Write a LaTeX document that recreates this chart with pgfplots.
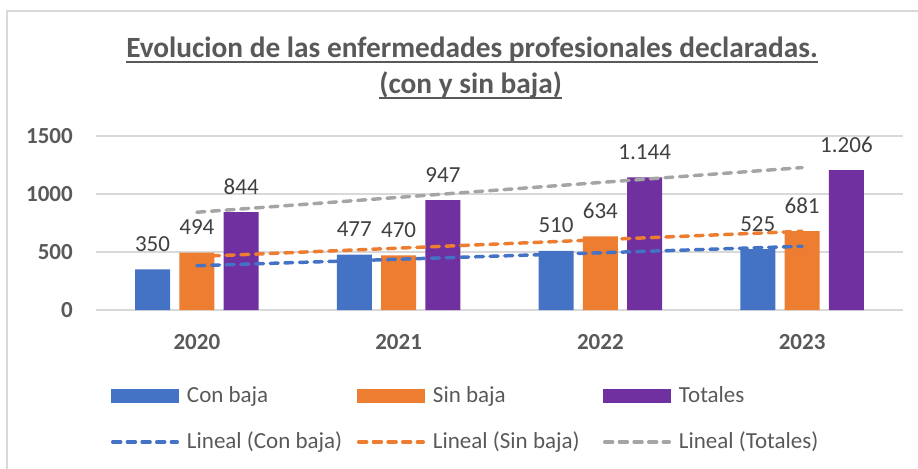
\documentclass[border=0pt]{standalone}
\usepackage{fontspec}
\setmainfont{Carlito}
\usepackage{pgfplots}
\usepackage{pgfplotstable}
\pgfplotsset{compat=1.18}

\definecolor{cblue}{HTML}{4472C4}
\definecolor{corange}{HTML}{ED7D31}
\definecolor{cpurple}{HTML}{7030A0}
\definecolor{cgray}{HTML}{A5A5A5}
\definecolor{cgrid}{HTML}{D9D9D9}
\definecolor{txt}{HTML}{595959}
\definecolor{lbl}{HTML}{404040}

\newcommand{\bigf}{\fontsize{17.25pt}{20pt}\selectfont}
\newcommand{\leg}[1]{\raisebox{0pt}[0.63em][0pt]{\makebox[127.5pt][l]{#1}}}

\pgfplotstableread{
x con sin tot
0 350 494 844
1 477 470 947
2 510 634 1144
3 525 681 1206
}\data

\begin{document}
\begin{tikzpicture}
\useasboundingbox (0,0) rectangle (688.5pt,-351pt);
\draw[cgrid, line width=1.5pt] (5.6pt,-400pt) -- (5.6pt,-8.25pt) -- (720pt,-8.25pt);

% title, underlined
\node[anchor=base, inner sep=0pt, text=txt, font=\fontsize{22pt}{26pt}\selectfont\bfseries]
  (t1) at (354pt,-42.75pt) {Evolucion de las enfermedades profesionales declaradas.};
\node[anchor=base, inner sep=0pt, text=txt, font=\fontsize{22pt}{26pt}\selectfont\bfseries]
  (t2) at (353pt,-69.75pt) {(con y sin baja)};
\draw[txt, line width=1.5pt] ([yshift=-3.5pt]t1.base west) -- ([yshift=-3.5pt]t1.base east);
\draw[txt, line width=1.5pt] ([yshift=-3.5pt]t2.base west) -- ([yshift=-3.5pt]t2.base east);

\begin{axis}[
  at={(72pt,-232.5pt)}, anchor=south west,
  scale only axis, width=605.25pt, height=130.5pt,
  xmin=-0.5, xmax=3.5, ymin=0, ymax=1500,
  xtick={0,1,2,3}, xticklabels={2020,2021,2022,2023},
  ytick={0,500,1000,1500},
  axis line style={draw=none}, tick style={draw=none},
  xmajorgrids=false, ymajorgrids=true, grid style={cgrid, line width=1.1pt},
  /pgf/number format/assume math mode=true,
  /pgf/number format/1000 sep={},
  ticklabel style={font=\bigf\bfseries, text=txt, inner sep=0pt},
  yticklabel style={anchor=east, xshift=-17.25pt},
  xticklabel style={anchor=base, yshift=-29.25pt},
  clip=false,
  legend columns=3,
  legend cell align=left,
  legend style={at={(axis description cs:0.01859,-0.4483)}, anchor=north west,
    draw=none, fill=none, inner sep=0pt, outer sep=0pt,
    font=\bigf, text=txt, row sep=22pt,
    nodes={inner sep=0pt, outer sep=0pt},
    /tikz/every odd column/.append style={column sep=6pt}},
  bars/.style={ybar, bar width=26.25pt, draw=none, bar shift=#1,
    nodes near coords={\pgfmathprintnumber[1000 sep={.}]{\pgfplotspointmeta}},
    every node near coord/.append style={anchor=base, inner sep=0pt,
      xshift=#1, yshift=13.5pt,
      font=\bigf, text=lbl, /pgf/number format/assume math mode=true}},
  trend/.style={sharp plot, line width=2.6pt, line cap=round, dash pattern=on 6pt off 5pt,
    legend image code/.code={\draw[##1] (1.3pt,0pt) -- (49.7pt,0pt);}},
]
\addplot[bars=-33.25pt, fill=cblue,
  legend image code/.code={\fill[cblue] (0pt,-5.25pt) rectangle (51pt,5.25pt);}]
  table[x=x, y=con] {\data};
\addlegendentry{\leg{Con baja}}
\addplot[bars=0pt, fill=corange,
  legend image code/.code={\fill[corange] (0pt,-5.25pt) rectangle (51pt,5.25pt);}]
  table[x=x, y=sin] {\data};
\addlegendentry{\leg{Sin baja}}
\addplot[bars=33.25pt, fill=cpurple,
  legend image code/.code={\fill[cpurple] (0pt,-5.25pt) rectangle (51pt,5.25pt);}]
  table[x=x, y=tot] {\data};
\addlegendentry{\leg{Totales}}

\addplot[trend, cblue] table[x=x, y={create col/linear regression={y=con}}] {\data};
\addlegendentry{\leg{Lineal (Con baja)}}
\addplot[trend, corange] table[x=x, y={create col/linear regression={y=sin}}] {\data};
\addlegendentry{\leg{Lineal (Sin baja)}}
\addplot[trend, cgray] table[x=x, y={create col/linear regression={y=tot}}] {\data};
\addlegendentry{\leg{Lineal (Totales)}}
\end{axis}
\end{tikzpicture}
\end{document}
